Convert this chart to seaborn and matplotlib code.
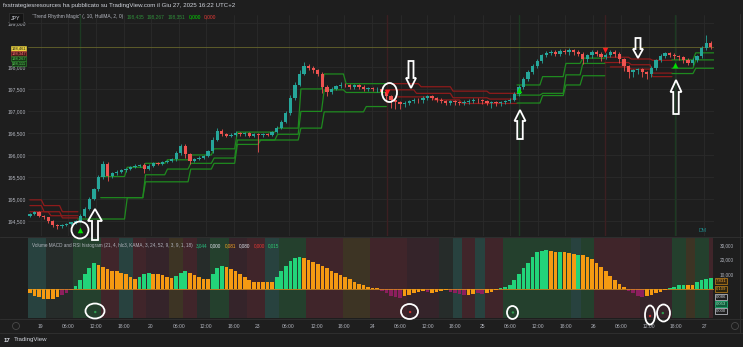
import numpy as np
import pandas as pd
import matplotlib
matplotlib.use("Agg")
import matplotlib.pyplot as plt
from matplotlib.patches import Ellipse, Polygon
import seaborn as sns

# ---------------- data ----------------
first_open = 194.62
closes = [
    194.66, 194.70, 194.62, 194.58, 194.50, 194.42, 194.38, 194.41, 194.44, 194.47,
    194.50, 194.62, 194.78, 195.00, 195.22, 195.50, 195.80, 195.52, 195.58, 195.62,
    195.65, 195.68, 195.72, 195.76, 195.78, 195.68, 195.76, 195.82, 195.80, 195.84,
    195.86, 195.90, 196.05, 196.20, 196.02, 195.86, 195.90, 195.94, 195.98, 196.08,
    196.35, 196.55, 196.48, 196.44, 196.46, 196.50, 196.47, 196.49, 196.44, 196.47,
    196.45, 196.48, 196.46, 196.52, 196.62, 196.75, 196.95, 197.30, 197.60, 197.85,
    198.02, 197.98, 197.92, 197.85, 197.55, 197.42, 197.50, 197.56, 197.60, 197.58,
    197.55, 197.58, 197.54, 197.50, 197.52, 197.49, 197.50, 197.42, 197.33, 197.24,
    197.20, 197.16, 197.19, 197.22, 197.26, 197.24, 197.30, 197.33, 197.30, 197.26,
    197.22, 197.19, 197.22, 197.20, 197.18, 197.21, 197.23, 197.26, 197.24, 197.22,
    197.19, 197.20, 197.17, 197.20, 197.22, 197.26, 197.38, 197.55, 197.72, 197.88,
    198.02, 198.14, 198.26, 198.32, 198.35, 198.30, 198.36, 198.33, 198.38, 198.34,
    198.30, 198.18, 198.26, 198.34, 198.30, 198.22, 198.28, 198.34, 198.30, 198.18,
    198.02, 197.88, 197.92, 197.95, 197.88, 197.84, 197.98, 198.15, 198.25, 198.31,
    198.28, 198.24, 198.22, 198.16, 198.10, 198.16, 198.24, 198.42, 198.55, 198.461,
]
wick_up = [  # price points (1/1000 yen)
    30, 25, 20, 25, 20, 15, 20, 15, 20, 15,
    20, 30, 30, 40, 40, 50, 60, 30, 40, 30,
    25, 30, 30, 25, 20, 40, 30, 25, 30, 25,
    30, 40, 50, 60, 40, 30, 25, 30, 30, 40,
    50, 60, 40, 30, 30, 35, 30, 25, 30, 40,
    30, 25, 30, 30, 35, 40, 50, 60, 60, 70,
    90, 50, 40, 40, 30, 40, 35, 40, 50, 30,
    35, 30, 30, 40, 30, 30, 35, 40, 30, 30,
    25, 30, 30, 35, 40, 30, 35, 40, 30, 25,
    25, 30, 30, 25, 30, 35, 40, 30, 30, 25,
    25, 30, 25, 30, 30, 35, 40, 40, 50, 50,
    40, 40, 40, 45, 40, 40, 45, 40, 40, 35,
    40, 40, 45, 40, 35, 50, 40, 40, 35, 30,
    30, 35, 30, 35, 30, 30, 40, 40, 35, 40,
    35, 30, 30, 30, 35, 40, 40, 60, 170, 50,
]
wick_dn = [
    30, 25, 30, 35, 40, 60, 60, 40, 30, 25,
    30, 25, 20, 30, 30, 30, 40, 120, 40, 30,
    25, 30, 30, 25, 30, 80, 30, 25, 30, 25,
    30, 30, 30, 40, 80, 60, 30, 25, 30, 30,
    30, 40, 60, 40, 30, 30, 40, 35, 30, 40,
    380, 35, 30, 30, 30, 25, 30, 40, 40, 40,
    40, 60, 50, 60, 150, 80, 40, 35, 40, 40,
    45, 40, 40, 50, 40, 40, 60, 80, 120, 180,
    150, 120, 80, 60, 50, 60, 60, 50, 50, 60,
    50, 60, 50, 60, 50, 40, 50, 50, 60, 60,
    60, 120, 60, 50, 50, 40, 40, 40, 40, 40,
    40, 40, 40, 40, 50, 50, 45, 40, 50, 60,
    60, 120, 60, 50, 60, 80, 50, 60, 80, 100,
    120, 120, 100, 80, 100, 120, 60, 40, 40, 45,
    50, 50, 60, 60, 60, 50, 40, 30, 40, 60,
]

# trailing lines of "Trend Rhythm Magic": (start bar, level) steps, segment end bar
bear1_lines = [[(0, 194.98), (2.5, 194.85), (6.5, 194.71)],
               [(0, 194.85), (2.5, 194.71), (6.5, 194.57)],
               [(0, 194.71), (4.0, 194.62)]]
bear1_end = 10.5
bull1_lines = [[(10.5, 194.545), (20.7, 195.03), (24.7, 195.39), (34.6, 195.68), (39.7, 195.81),
                (44.8, 196.24), (49.9, 196.34), (58.7, 196.61), (63.8, 196.98), (73.0, 197.10)],
               [(15.5, 195.03), (24.7, 195.55), (29.5, 195.68), (34.6, 195.81), (39.7, 195.93),
                (44.8, 196.34), (53.6, 196.47), (58.7, 196.99), (63.8, 197.48), (68.6, 197.42)],
               [(15.5, 195.51), (20.7, 195.72), (24.7, 195.81), (29.5, 195.89), (34.6, 196.00),
                (39.7, 196.14), (44.8, 196.52), (53.6, 196.61), (58.7, 197.50), (63.8, 197.84),
                (68.6, 197.62)]]
bull1_end = 78.0
bear2_lines = [[(78.0, 197.62), (85.0, 197.55), (92.0, 197.45), (100.0, 197.40)],
               [(78.0, 197.48), (84.0, 197.40), (92.0, 197.30), (100.0, 197.27)],
               [(80.0, 197.32), (88.0, 197.25), (94.0, 197.17)]]
bear2_end = 106.6
bull2_lines = [[(106.6, 197.59), (111.6, 197.78), (116.7, 198.08), (120.4, 198.20)],
               [(106.6, 197.36), (111.6, 197.40), (116.7, 197.82), (120.4, 198.08)],
               [(106.6, 197.18), (111.6, 197.35), (116.7, 197.59), (120.4, 197.80)]]
bull2_end = 125.8
bear3_lines = [[(125.8, 198.22), (131.0, 198.18), (135.7, 198.15)],
               [(125.8, 198.10), (131.0, 198.05), (135.7, 197.86)],
               [(127.0, 198.00), (131.0, 197.95), (135.7, 197.78)]]
bear3_end = 140.5
bull3_lines = [[(140.5, 198.16), (145.1, 198.32)],
               [(140.5, 197.97), (145.1, 198.16)],
               [(140.5, 197.85), (145.1, 197.97)]]
bull3_end = 149.7

buy_bars = [10.9, 107.0, 141.2]
buy_prices = [194.295, 197.48, 198.05]
sell_bars = [78.2, 125.8]
sell_prices = [197.43, 198.39]
last_price = 198.461

price_ticks = [194.5, 195.0, 195.5, 196.0, 196.5, 197.0, 197.5, 198.0, 199.0]
time_tick_pos = [2.4, 8.4, 14.5, 20.5, 26.4, 32.6, 38.5, 44.7, 49.8, 56.6, 62.8, 68.7, 74.9,
                 81.1, 87.0, 92.9, 99.1, 105.0, 111.2, 117.2, 123.3, 129.3, 135.4, 141.4, 147.6]
time_tick_labels = ["19", "06:00", "12:00", "18:00", "20", "06:00", "12:00", "18:00",
                    "23", "06:00", "12:00", "18:00", "24", "06:00", "12:00", "18:00",
                    "25", "06:00", "12:00", "18:00", "26", "06:00", "12:00", "18:00", "27"]

# Volume MACD / RSI histogram (thousands) and bar state
hist_vals = [
    -3, -4.5, -5.5, -6.5, -7, -6.5, -5.5, -4, -2.5, -1,
    2, 6, 10, 14, 17.5,
    16.5, 15, 13.5, 12.5, 12, 11, 10,
    8, 7,
    8.5, 10, 11,
    10.5, 10, 9.5, 8.5, 7.5,
    9, 11, 12,
    11, 9.5, 8, 7, 6.5,
    10, 14, 16,
    15, 13.5, 12, 10, 8, 6, 4.5,
    5, 4.5, 4.5, 5,
    8, 12, 16, 19, 21, 22,
    21, 20, 18.5, 17, 15.5, 14, 12.5, 11, 9.5, 8, 6.5, 5, 3.5,
    2.5, 1.5, 1, 0.5,
    -1.5, -3, -4.5, -5.5, -6, -5, -4, -3,
    -2, -1.5, -2, -2.5, -2, -1.5, -1,
    -2, -3, -3.5, -4, -4, -3.5, -3, -3.5, -3, -2,
    -1, 0.5, 1.5,
    3, 6, 10, 14, 18, 22, 25,
    26, 26.5, 26, 25.5, 25, 25, 24.5, 24, 23.5, 23, 22, 20.5, 18, 15, 12, 9, 6, 3.5, 1.5,
    -1.5, -3, -4.5, -5.5, -5, -4, -3, -2, -1,
    0.5, 1.5, 2.5,
    3, 3, 3,
    4.5, 6, 7, 7.831,
]
hist_state = ("oooooooppp" + "ggggg" + "ooooooo" + "oo" + "ggg" + "ooooo" + "ggg" + "ooooo"
              + "ggg" + "ooooooo" + "oooo" + "gggggg" + "o" * 13 + "oooo" + "pppppooo"
              + "oopoooo" + "ppppooppoo" + "ogg" + "ggggggg" + "ggoogooog" + "o" * 10
              + "ppppooooo" + "ggg" + "goo" + "gggg")
bg_runs = [("T", 4), ("N", 6), ("G", 6), ("R", 4), ("T", 3), ("R", 3), ("r", 5), ("O", 3),
           ("R", 3), ("N", 3), ("G", 4), ("r", 4), ("R", 4), ("T", 3), ("G", 6), ("R", 8),
           ("O", 6), ("R", 8), ("r", 7), ("N", 3), ("T", 2), ("R", 3), ("T", 2), ("R", 4),
           ("G", 9), ("G", 6), ("T", 2), ("G", 3), ("R", 10), ("r", 7), ("G", 3), ("O", 2),
           ("G", 3), ("R", 1)]
dot_bars = [14.3, 83.2, 105.7, 135.7, 138.5]
dot_vals = [-15700, -15700, -16000, -18400, -16400]
dot_kind = ["buy", "sell", "buy", "sell", "buy"]

header_text = "fxstrategiesresources ha pubblicato su TradingView.com il Giu 27, 2025 16:22 UTC+2"
main_title = "\u201cTrend Rhythm Magic\u201d (, 10, HullMA, 2, 0)"
main_values = ["198,435", "198,267", "198,351", "0,000", "0,000"]
ind_title = "Volume MACD and RSI histogram (21, 4, hlc3, KAMA, 3, 24, 52, 9, 3, 9, 1, 18)"
ind_values = ["3,044", "0,000", "0,081", "0,080", "0,000", "0,015"]
left_labels = ["198,461", "198,347", "198,267", "198,111"]
right_labels = ["7,831", "0,109", "0,086", "0,053", "0,000"]

# ---------------- style ----------------
BG = "#1e1e1e"
GRID = "#2a2a2a"
TXT = "#b2b5be"
UP, DN = "#26a69a", "#ef5350"
BULL, BEAR = "#1f8a1f", "#8e1b1b"
HIST_PAL = {"g": "#22d47a", "o": "#f59a12", "p": "#8c1f5e"}
BG_PAL = {"T": "#28423f", "N": "#262c2a", "G": "#24402d", "R": "#40252a",
          "r": "#35242a", "O": "#3d3424"}

sns.set_theme(style="dark", rc={"axes.facecolor": BG, "figure.facecolor": BG})
plt.rcParams["font.family"] = ["Liberation Sans", "DejaVu Sans"]

W, H = 743, 347
fig = plt.figure(figsize=(W / 100, H / 100), dpi=100)
fig.patch.set_facecolor(BG)


def fx(x):
    return x / W


def fy(y):
    return 1 - y / H


L, R = 28, 714
ax = fig.add_axes([fx(L), fy(236), fx(R) - fx(L), fy(15) - fy(236)])
ax2 = fig.add_axes([fx(L), fy(318), fx(R) - fx(L), fy(238) - fy(318)])
for a in (ax, ax2):
    a.set_facecolor(BG)
    for s in a.spines.values():
        s.set_visible(False)

XMIN, XMAX = -0.42, 149.7

# ---------------- main price panel ----------------
n = len(closes)
bars = np.arange(n)
c = np.array(closes)
o = np.r_[first_open, c[:-1]]
hi = np.maximum(o, c) + np.array(wick_up) / 1000
lo = np.minimum(o, c) - np.array(wick_dn) / 1000
cols = np.where(c >= o, UP, DN)

for p in price_ticks:
    ax.axhline(p, color=GRID, lw=0.6, zorder=0)
for t in time_tick_pos:
    ax.axvline(t, color=GRID, lw=0.6, zorder=0)
    ax2.axvline(t, color=GRID, lw=0.6, zorder=0)
for b in buy_bars:
    ax.axvline(b, color="#1c3a22", lw=1.0, zorder=0.5)
for b in sell_bars:
    ax.axvline(b, color="#3c1f22", lw=1.0, zorder=0.5)

ax.axhline(last_price, color="#66652c", lw=0.6, zorder=1)


def trail_points(steps, end):
    xs, ys = [steps[0][0]], [steps[0][1]]
    for s, v in steps[1:]:
        prev = ys[-1]
        xs += [s, s + 0.6]
        ys += [prev, v]
    xs.append(end)
    ys.append(ys[-1])
    return xs, ys


segments = [(bear1_lines, bear1_end, "bear"), (bull1_lines, bull1_end, "bull"),
            (bear2_lines, bear2_end, "bear"), (bull2_lines, bull2_end, "bull"),
            (bear3_lines, bear3_end, "bear"), (bull3_lines, bull3_end, "bull")]
rows = []
for si, (lines, end, trend) in enumerate(segments):
    for k, steps in enumerate(lines):
        xs, ys = trail_points(steps, end)
        for x_, y_ in zip(xs, ys):
            rows.append({"bar": x_, "price": y_, "line": f"{si}-{k}", "trend": trend})
trail_df = pd.DataFrame(rows)
sns.lineplot(data=trail_df, x="bar", y="price", units="line", hue="trend",
             palette={"bull": BULL, "bear": BEAR}, estimator=None, sort=False,
             legend=False, lw=0.9, ax=ax, zorder=2)

ax.vlines(bars, lo, hi, colors=cols, lw=0.6, zorder=3)
ax.bar(bars, np.maximum(np.abs(c - o), 0.006), bottom=np.minimum(o, c), width=0.72,
       color=cols, lw=0, zorder=4)

ax.scatter(buy_bars, buy_prices, marker="^", s=16, color="#00e000", lw=0, zorder=6)
ax.scatter(sell_bars, sell_prices, marker="v", s=16, color="#ff2020", lw=0, zorder=6)

ax.set_xlim(XMIN, XMAX)
ax.set_ylim(194.159, 199.18)
ax.set_yticks(price_ticks)
ax.set_yticklabels([f"{p:.3f}".replace(".", ",") for p in price_ticks])
ax.set_xticks([])
ax.tick_params(axis="y", labelsize=3.6, colors=TXT, pad=1.5, length=0)
ax.set_xlabel("")
ax.set_ylabel("")
ax.grid(False)

# ---------------- indicator panel ----------------
start = 0
for code, cnt in bg_runs:
    ax2.axvspan(start - 0.5, start + cnt - 0.5, color=BG_PAL[code], lw=0, zorder=0)
    start += cnt

hist_df = pd.DataFrame({"bar": bars, "val": np.array(hist_vals) * 1000,
                        "state": list(hist_state)})
sns.barplot(data=hist_df, x="bar", y="val", hue="state", palette=HIST_PAL,
            native_scale=True, orient="x", dodge=False, width=0.8, errorbar=None,
            legend=False, saturation=1, linewidth=0, ax=ax2, zorder=3)
ax2.axhline(0, color="#e8961a", lw=0.5, zorder=4)

dot_cols = ["#2e9b4e" if k == "buy" else "#d03030" for k in dot_kind]
ax2.scatter(dot_bars, dot_vals, s=3, color=dot_cols, lw=0, zorder=6, clip_on=False)

ax2.set_xlim(XMIN, XMAX)
ax2.set_ylim(-19770, 34770)
ax2.yaxis.tick_right()
ax2.set_yticks([10000, 20000, 30000])
ax2.set_yticklabels(["10,000", "20,000", "30,000"])
ax2.set_xticks(time_tick_pos)
ax2.set_xticklabels(time_tick_labels)
ax2.tick_params(axis="y", labelsize=3.4, colors=TXT, pad=4, length=0)
ax2.tick_params(axis="x", labelsize=3.6, colors=TXT, pad=4.5, length=0)
ax2.set_xlabel("")
ax2.set_ylabel("")
ax2.grid(False)

# ---------------- frame lines ----------------
for yy in (237, 318.5, 333):
    fig.add_artist(plt.Line2D([0, 1], [fy(yy), fy(yy)], color="#2e2e2e", lw=0.8))
fig.add_artist(plt.Line2D([fx(740), fx(740)], [fy(14), fy(333)], color="#2e2e2e", lw=0.8))

# ---------------- texts ----------------
renderer = fig.canvas.get_renderer()


def text_row(x, y, title, values, colors, size, title_color, gap=3.0):
    t = fig.text(fx(x), fy(y), title, fontsize=size, color=title_color, ha="left", va="center")
    xe = t.get_window_extent(renderer).x1 + gap
    for v, col in zip(values, colors):
        tv = fig.text(xe / W, fy(y), v, fontsize=size, color=col, ha="left", va="center")
        xe = tv.get_window_extent(renderer).x1 + gap


fig.text(fx(3), fy(6), header_text, fontsize=4.4, color="#d1d4dc", ha="left", va="center")
fig.text(fx(16), fy(18), "JPY", fontsize=3.8, color="#d1d4dc", ha="center", va="center",
         bbox=dict(boxstyle="square,pad=0.45", fc="#141414", ec="#333333", lw=0.5))
text_row(32, 16.5, main_title, main_values,
         ["#2f8f3a", "#2f8f3a", "#2f8f3a", "#00e000", "#e53935"], 3.5, TXT)
text_row(32, 246, ind_title, ind_values,
         ["#26c281", "#e0e3eb", "#f5a623", "#e0e3eb", "#e53935", "#2ecc71"], 3.3, TXT)

# price label boxes (left scale)
for yy, t, fc, ec, tc in zip([48.6, 53.6, 58.6, 63.6], left_labels,
                             ["#e9d13f", "#4a1c1c", "#163816", "#163816"],
                             ["#e9d13f", "#c43b3b", "#2e8b2e", "#2e8b2e"],
                             ["#1e1e1e", "#ff7070", "#5ccf5c", "#5ccf5c"]):
    fig.text(fx(26), fy(yy), t, fontsize=2.9, color=tc, ha="right", va="center",
             bbox=dict(boxstyle="square,pad=0.08", fc=fc, ec=ec, lw=0.4))

# indicator value boxes (right scale)
for yy, t, fc, ec, tc in zip([281, 289, 297, 304, 311], right_labels,
                             ["#3a2a10", "#2a2410", BG, "#0f5a3a", BG],
                             ["#c8871a", "#c8871a", "#d1d4dc", "#26c281", "#d1d4dc"],
                             ["#f0a030", "#e8a33a", "#d1d4dc", "#9fe8c4", "#d1d4dc"]):
    fig.text(fx(716), fy(yy), t, fontsize=3.1, color=tc, ha="left", va="center",
             bbox=dict(boxstyle="square,pad=0.15", fc=fc, ec=ec, lw=0.5))

fig.text(fx(703), fy(230), "DM", fontsize=3.8, color="#1f8a8a", ha="center", va="center")
fig.text(fx(4), fy(340), "17", fontsize=4.4, color="#e0e3eb", ha="left", va="center", weight="bold")
fig.text(fx(14), fy(340), "TradingView", fontsize=4.4, color="#d1d4dc", ha="left", va="center")
for cx in (16, 735):
    fig.add_artist(Ellipse((fx(cx), fy(326)), 7 / W, 7 / H, fill=False, ec="#4a4a4a", lw=0.6,
                           transform=fig.transFigure))

# ---------------- white hand annotations ----------------


def add_poly(pts):
    fig.add_artist(Polygon([(fx(x), fy(y)) for x, y in pts], closed=True, fill=False,
                           ec="white", lw=1.3, transform=fig.transFigure, zorder=20))


def arrow_up(cx, ytop, ybot, hw, hl, sw):
    add_poly([(cx, ytop), (cx + hw / 2, ytop + hl), (cx + sw / 2, ytop + hl), (cx + sw / 2, ybot),
              (cx - sw / 2, ybot), (cx - sw / 2, ytop + hl), (cx - hw / 2, ytop + hl)])


def arrow_down(cx, ytop, ybot, hw, hl, sw):
    add_poly([(cx, ybot), (cx + hw / 2, ybot - hl), (cx + sw / 2, ybot - hl), (cx + sw / 2, ytop),
              (cx - sw / 2, ytop), (cx - sw / 2, ybot - hl), (cx - hw / 2, ybot - hl)])


arrow_up(95, 209, 240, 14, 12, 6)
arrow_up(520, 110, 139, 11, 11, 5.5)
arrow_up(676, 80, 114, 11, 12, 5.5)
arrow_down(411, 61, 88, 10, 10, 5)
arrow_down(638, 38, 58, 10, 9, 5)

for cx, cy, w, h in [(80, 230, 17, 17), (389.5, 92.5, 15, 19), (95, 311, 19, 15),
                     (409.5, 311.5, 17, 15), (512.5, 312.5, 11, 13), (650, 315, 10, 19),
                     (663.5, 313, 13, 17)]:
    fig.add_artist(Ellipse((fx(cx), fy(cy)), w / W, h / H, fill=False, ec="white", lw=1.3,
                           transform=fig.transFigure, zorder=20))

fig.savefig("out.png", dpi=100, facecolor=BG)
